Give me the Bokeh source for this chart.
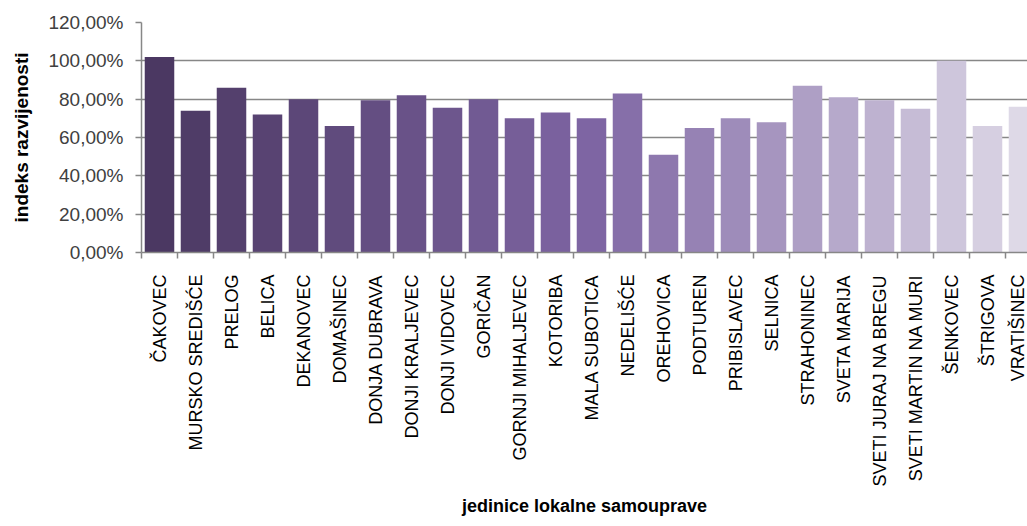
import math
from bokeh.plotting import figure
from bokeh.models import ColumnDataSource, Range1d, FixedTicker, LinearAxis
from bokeh.embed import file_html
from bokeh.resources import INLINE

categories = ["ČAKOVEC", "MURSKO SREDIŠĆE", "PRELOG", "BELICA", "DEKANOVEC",
              "DOMAŠINEC", "DONJA DUBRAVA", "DONJI KRALJEVEC", "DONJI VIDOVEC",
              "GORIČAN", "GORNJI MIHALJEVEC", "KOTORIBA", "MALA SUBOTICA",
              "NEDELIŠĆE", "OREHOVICA", "PODTUREN", "PRIBISLAVEC", "SELNICA",
              "STRAHONINEC", "SVETA MARIJA", "SVETI JURAJ NA BREGU",
              "SVETI MARTIN NA MURI", "ŠENKOVEC", "ŠTRIGOVA", "VRATIŠINEC"]
values = [1.02, 0.74, 0.86, 0.72, 0.80, 0.66, 0.795, 0.82, 0.755, 0.80,
          0.70, 0.73, 0.70, 0.83, 0.51, 0.65, 0.70, 0.68, 0.87, 0.81,
          0.795, 0.75, 1.00, 0.66, 0.76]
y_ticks = [0.0, 0.2, 0.4, 0.6, 0.8, 1.0, 1.2]
y_tick_labels = ["0,00%", "20,00%", "40,00%", "60,00%", "80,00%", "100,00%", "120,00%"]

# colour gradient (style)
stops = [(0, (0x4B, 0x38, 0x62)), (12, (0x7E, 0x65, 0xA3)), (24, (0xDE, 0xD9, 0xE7))]
def grad(i):
    for (a, ca), (b, cb) in zip(stops[:-1], stops[1:]):
        if a <= i <= b:
            t = (i - a) / (b - a)
            c = [round(ca[k] + (cb[k] - ca[k]) * t) for k in range(3)]
            return "#%02x%02x%02x" % tuple(c)
colors = [grad(i) for i in range(len(categories))]

xs = [i + 0.5 for i in range(len(categories))]
src = ColumnDataSource(dict(x=xs, top=values, color=colors))

W, H = 1027, 518
LEFT, TOP, BOTTOM = 141, 22, 259
p = figure(width=W, height=H, output_backend="svg", toolbar_location=None,
           x_range=Range1d(0, (W - LEFT) / 36.0), y_range=Range1d(0, 1.2),
           min_border_left=LEFT, min_border_right=0, min_border_top=TOP,
           min_border_bottom=H - BOTTOM, x_axis_location=None, y_axis_location=None)
p.outline_line_color = None
p.background_fill_color = "white"
p.border_fill_color = "white"

p.vbar(x="x", top="top", width=0.82, bottom=0, source=src,
       fill_color="color", line_color=None)

FONT = "Liberation Sans"
GRAY = "#878787"

xaxis = LinearAxis(ticker=FixedTicker(ticks=xs, minor_ticks=list(range(len(categories) + 1))))
xaxis.major_label_overrides = {x: c for x, c in zip(xs, categories)}
xaxis.major_label_orientation = math.pi / 2
xaxis.major_tick_out = 0
xaxis.major_tick_in = 0
xaxis.minor_tick_out = 6
xaxis.minor_tick_in = 0
xaxis.minor_tick_line_color = GRAY
xaxis.minor_tick_line_width = 1.5
xaxis.axis_line_color = GRAY
xaxis.axis_line_width = 1.5
xaxis.major_label_text_font = FONT
xaxis.major_label_text_font_size = "18px"
xaxis.major_label_text_color = "#000000"
xaxis.major_label_standoff = 16
xaxis.axis_label = "jedinice lokalne samouprave"
xaxis.axis_label_text_font = FONT
xaxis.axis_label_text_font_size = "18px"
xaxis.axis_label_text_font_style = "bold"
xaxis.axis_label_text_color = "#000000"
xaxis.axis_label_standoff = 6
p.add_layout(xaxis, "below")

yaxis = LinearAxis(ticker=FixedTicker(ticks=y_ticks, minor_ticks=[]))
yaxis.major_label_overrides = {t: l for t, l in zip(y_ticks, y_tick_labels)}
yaxis.major_tick_out = 6
yaxis.major_tick_in = 0
yaxis.minor_tick_out = 0
yaxis.major_tick_line_color = GRAY
yaxis.major_tick_line_width = 1.5
yaxis.axis_line_color = GRAY
yaxis.axis_line_width = 1.5
yaxis.major_label_text_font = FONT
yaxis.major_label_text_font_size = "19px"
yaxis.major_label_text_color = "#404040"
yaxis.major_label_standoff = 12
yaxis.axis_label = "indeks razvijenosti"
yaxis.axis_label_text_font = FONT
yaxis.axis_label_text_font_size = "19px"
yaxis.axis_label_text_font_style = "bold"
yaxis.axis_label_text_color = "#000000"
yaxis.axis_label_standoff = 13
p.add_layout(yaxis, "left")

p.xgrid.visible = False
p.ygrid.ticker = FixedTicker(ticks=y_ticks[1:])
p.ygrid.grid_line_color = GRAY
p.ygrid.grid_line_width = 1.5

open("out.html", "w").write(file_html(p, INLINE))
